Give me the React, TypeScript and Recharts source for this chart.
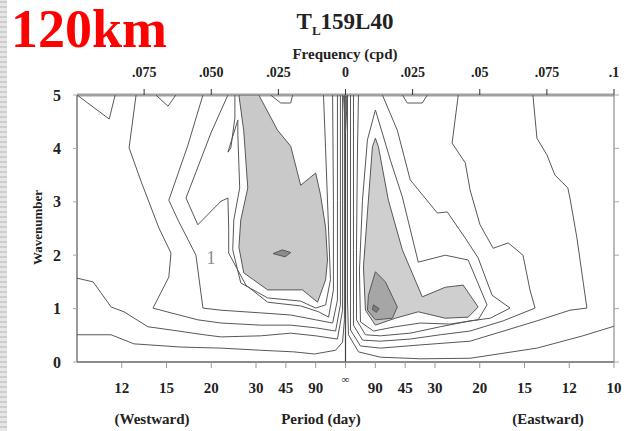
import { ComposedChart, Scatter, XAxis, YAxis, ReferenceLine, ReferenceDot } from 'recharts';

type Pt = [number, number];

// frequency (cpd), negative = westward
const TOP_TICKS = [-0.075, -0.05, -0.025, 0, 0.025, 0.05, 0.075, 0.1];
const TOP_LABELS = ['.075', '.050', '.025', '0', '.025', '.05', '.075', '.1'];
const PERIODS_WEST = [12, 15, 20, 30, 45, 90];
const PERIODS_EAST = [90, 45, 30, 20, 15, 12, 10];
const WAVENUMBERS = [0, 1, 2, 3, 4, 5];

// shaded areas
const westShade: Pt[] = [
    [-0.0397, 5.0], [-0.0323, 5.0], [-0.0253, 4.34], [-0.0204, 4.04], [-0.0167, 3.31], [-0.0111, 3.54],
    [-0.0093, 3.13], [-0.0074, 2.51], [-0.0067, 1.91], [-0.0074, 1.54], [-0.0104, 1.12], [-0.016, 1.35],
    [-0.029, 1.35], [-0.0379, 1.67], [-0.0397, 2.15], [-0.039, 2.66], [-0.0364, 3.26], [-0.0379, 4.33], [-0.0397, 5.0],
];
const westCore: Pt[] = [[-0.027, 2.03], [-0.0235, 2.1], [-0.0204, 2.05], [-0.0225, 1.97], [-0.027, 2.03]];
const centerCore: Pt[] = [[-0.0007, 4.98], [0, 4.3], [0.0007, 4.98], [-0.0007, 4.98]];
const eastShade: Pt[] = [
    [0.01114, 4.19], [0.01226, 4.03], [0.01597, 3.03], [0.02117, 2.1], [0.0286, 1.22], [0.03715, 1.4],
    [0.04383, 1.44], [0.0494, 1.03], [0.0457, 0.84], [0.03715, 0.82], [0.0271, 0.94], [0.01857, 0.82],
    [0.01114, 0.69], [0.00743, 0.97], [0.00669, 1.78], [0.00817, 2.79], [0.01003, 4.03], [0.01114, 4.19],
];
const eastMid: Pt[] = [
    [0.01114, 1.69], [0.01486, 1.5], [0.0193, 1.03], [0.01746, 0.82], [0.01114, 0.79], [0.00817, 0.97],
    [0.00854, 1.25], [0.01114, 1.69],
];
const eastCore: Pt[] = [[0.0104, 1.07], [0.0125, 1.0], [0.0115, 0.93], [0.01, 0.98], [0.0104, 1.07]];

// contour lines, westward half
const westA: Pt[] = [[-0.1, 5], [-0.088, 4.55], [-0.0858, 5]];
const westB: Pt[] = [[-0.0706, 5], [-0.0661, 4.79], [-0.0632, 5]];
const westNotch: Pt[] = [[-0.0279, 5], [-0.0241, 4.85], [-0.0204, 4.85], [-0.0197, 5]];
const westInner: Pt[] = [
    [-0.0082, 5.0], [-0.0074, 3.97], [-0.0063, 2.47], [-0.0056, 1.54], [-0.0074, 1.07], [-0.0111, 1.01],
    [-0.0167, 1.14], [-0.029, 1.2], [-0.039, 1.48], [-0.042, 2.1], [-0.0416, 2.66], [-0.0394, 3.26],
    [-0.0401, 4.25], [-0.0401, 4.53], [-0.0438, 3.93], [-0.0427, 4.01], [-0.0412, 4.57], [-0.0412, 5.0],
];
const westG: Pt[] = [
    [-0.0438, 5.0], [-0.0501, 4.29], [-0.0594, 3.07], [-0.055, 2.57], [-0.0464, 3.01], [-0.0438, 3.07],
    [-0.0435, 2.51], [-0.0435, 2.04], [-0.0371, 1.44], [-0.029, 1.12], [-0.0167, 1.05], [-0.01, 0.94],
    [-0.0063, 0.84], [-0.0045, 1.35], [-0.0045, 3.03], [-0.0048, 5.0],
];
const westD: Pt[] = [
    [-0.0531, 5.0], [-0.0587, 4.06], [-0.0658, 3.03], [-0.0624, 2.66], [-0.0557, 2.0], [-0.0531, 1.01],
    [-0.0464, 0.97], [-0.0316, 0.92], [-0.0204, 0.88], [-0.0111, 0.79], [-0.0048, 0.73], [-0.003, 1.16],
    [-0.003, 3.03], [-0.003, 5.0],
];
const westC: Pt[] = [
    [-0.078, 5.0], [-0.0806, 4.01], [-0.0762, 3.39], [-0.0695, 2.51], [-0.065, 2.04], [-0.0658, 1.59],
    [-0.0717, 1.01], [-0.065, 0.92], [-0.055, 0.79], [-0.0464, 0.73], [-0.0316, 0.69], [-0.0204, 0.69],
    [-0.0111, 0.64], [-0.0037, 0.58], [-0.0019, 1.07], [-0.0019, 3.03], [-0.0019, 5.0],
];
const westE: Pt[] = [
    [-0.1, 1.57], [-0.094, 1.5], [-0.0873, 1.03], [-0.0825, 0.94], [-0.0736, 0.66], [-0.065, 0.6],
    [-0.0527, 0.51], [-0.0464, 0.47], [-0.0316, 0.49], [-0.0204, 0.54], [-0.0111, 0.49], [-0.003, 0.43],
    [-0.0011, 0.97], [-0.0011, 5.0],
];
const westF: Pt[] = [
    [-0.1, 0.51], [-0.0873, 0.51], [-0.0788, 0.34], [-0.0613, 0.28], [-0.0464, 0.26], [-0.0316, 0.22],
    [-0.0193, 0.19], [-0.0115, 0.15], [-0.0037, 0.22], [-0.0011, 0.37], [-0.0004, 0.79], [-0.0004, 5.0],
];

// contour lines, eastward half
const eastNotch: Pt[] = [[0.0212, 5], [0.023, 4.85], [0.0286, 4.85], [0.0305, 5]];
const eastB: Pt[] = [
    [0.01114, 4.72], [0.01672, 3.78], [0.02117, 3.09], [0.0271, 1.87], [0.03715, 2.0], [0.0457, 1.91],
    [0.0527, 1.07], [0.0494, 0.79], [0.039, 0.71], [0.0279, 0.73], [0.01857, 0.66], [0.0104, 0.58],
    [0.00557, 0.75], [0.0052, 1.72], [0.00632, 3.03], [0.00817, 4.16], [0.01114, 4.72],
];
const eastC: Pt[] = [
    [0.01374, 5.0], [0.0193, 4.34], [0.0241, 3.41], [0.0342, 2.79], [0.0379, 2.81], [0.0446, 2.32],
    [0.0494, 1.95], [0.0546, 1.25], [0.0613, 1.01], [0.0539, 0.82], [0.0464, 0.77], [0.0353, 0.66],
    [0.0241, 0.54], [0.013, 0.49], [0.00743, 0.51], [0.00409, 0.79], [0.00409, 2.1], [0.00446, 3.97], [0.00483, 5.0],
];
const eastD: Pt[] = [
    [0.042, 5.0], [0.0397, 4.1], [0.0446, 3.73], [0.0464, 3.22], [0.0501, 2.57], [0.055, 2.13],
    [0.0606, 2.23], [0.0661, 2.0], [0.0687, 1.35], [0.0706, 1.01], [0.0587, 0.77], [0.0464, 0.58],
    [0.0353, 0.51], [0.0241, 0.43], [0.013, 0.39], [0.00632, 0.41], [0.00297, 0.69], [0.00297, 2.1], [0.00297, 5.0],
];
const eastE: Pt[] = [
    [0.0698, 5.0], [0.0713, 4.19], [0.075, 3.88], [0.078, 3.5], [0.0828, 3.26], [0.0836, 3.07],
    [0.0862, 2.32], [0.0899, 1.01], [0.0836, 0.97], [0.0713, 0.77], [0.0464, 0.39], [0.0279, 0.32],
    [0.013, 0.26], [0.00557, 0.3], [0.00186, 0.6], [0.00186, 5.0],
];
const eastF: Pt[] = [
    [0.1, 0.67], [0.0884, 0.49], [0.0713, 0.26], [0.0464, 0.07], [0.0279, 0.06], [0.013, 0.09],
    [0.00483, 0.19], [0.00111, 0.51], [0.00074, 1.16], [0.00074, 5.0],
];

const FILLS: { pts: Pt[]; color: string }[] = [
    { pts: westShade, color: '#c9c9c9' },
    { pts: westCore, color: '#8c8c8c' },
    { pts: centerCore, color: '#6e6e6e' },
    { pts: eastShade, color: '#cfcfcf' },
    { pts: eastMid, color: '#a6a6a6' },
    { pts: eastCore, color: '#7c7c7c' },
];
const LINES: Pt[][] = [
    westA, westB, westNotch, westInner, westG, westD, westC, westE, westF,
    eastB, eastC, eastD, eastE, eastF,
];

const BOTTOM_TICKS = [...PERIODS_WEST.map((p) => -1 / p), 0, ...PERIODS_EAST.map((p) => 1 / p)];
const BOTTOM_LABELS = [...PERIODS_WEST.map(String), '∞', ...PERIODS_EAST.map(String)];

const SERIF = "'Liberation Serif', 'Times New Roman', serif";
const LINE = '#585858';

const rows = (pts: Pt[]) => pts.map(([f, k]) => ({ f, k }));
const noDot = () => <g />;

const PeriodTick = (props: any) => {
    const { x, y, payload } = props;
    const i = BOTTOM_TICKS.findIndex((t) => Math.abs(t - payload.value) < 1e-6);
    const label = BOTTOM_LABELS[i] ?? '';
    const inf = label === '∞';
    return (
        <text x={x} y={y} dy={inf ? 9 : 19} textAnchor="middle" fontFamily={SERIF} fontWeight="bold"
            fontSize={inf ? 11 : 15} fill="#222">
            {label}
        </text>
    );
};

export default function App() {
    return (
        <div style={{ position: 'fixed', left: 0, top: 0, width: 631, height: 431, background: '#fff', overflow: 'hidden' }}>
            <div
                style={{
                    position: 'absolute', left: 0, top: 0, width: 7, height: 431,
                    background: 'repeating-linear-gradient(0deg, #e6e6e6 0px, #e6e6e6 3px, #cdcdcd 3px, #cdcdcd 5px)',
                }}
            />
            <div style={{ position: 'absolute', left: 11, top: 2, fontFamily: SERIF, fontWeight: 'bold', fontSize: 54, lineHeight: 1, color: '#f00' }}>
                120km
            </div>
            <div style={{ position: 'absolute', left: 245, width: 200, top: 10, textAlign: 'center', fontFamily: SERIF, fontWeight: 'bold', fontSize: 23, lineHeight: 1, color: '#222' }}>
                T<sub style={{ fontSize: 13 }}>L</sub>159L40
            </div>
            <div style={{ position: 'absolute', left: 245, width: 200, top: 47, textAlign: 'center', fontFamily: SERIF, fontWeight: 'bold', fontSize: 15, lineHeight: 1, color: '#222' }}>
                Frequency (cpd)
            </div>
            <div
                style={{
                    position: 'absolute', left: 37, top: 228, width: 120, marginLeft: -60, marginTop: -7, textAlign: 'center',
                    transform: 'rotate(-90deg)', fontFamily: SERIF, fontWeight: 'bold', fontSize: 13, lineHeight: 1, color: '#222',
                }}
            >
                Wavenumber
            </div>
            {[
                { text: '(Westward)', cx: 152 },
                { text: 'Period (day)', cx: 321 },
                { text: '(Eastward)', cx: 548 },
            ].map((l) => (
                <div key={l.text} style={{ position: 'absolute', left: l.cx - 80, width: 160, top: 412, textAlign: 'center', fontFamily: SERIF, fontWeight: 'bold', fontSize: 15, lineHeight: 1, color: '#222' }}>
                    {l.text}
                </div>
            ))}

            <div style={{ position: 'absolute', left: 0, top: 0 }}>
                <ComposedChart width={631} height={431} margin={{ top: 70, right: 7, bottom: 39, left: 47 }}>
                    <XAxis
                        xAxisId="t"
                        orientation="top"
                        dataKey="f"
                        type="number"
                        domain={[-0.1, 0.1]}
                        allowDataOverflow
                        ticks={TOP_TICKS}
                        tickFormatter={(v: number) => TOP_LABELS[TOP_TICKS.findIndex((t) => Math.abs(t - v) < 1e-6)] ?? ''}
                        height={25}
                        tickSize={6}
                        tickMargin={12}
                        axisLine={{ stroke: '#a0a0a0', strokeWidth: 3 }}
                        tickLine={{ stroke: '#333' }}
                        tick={{ fontFamily: SERIF, fontWeight: 'bold', fontSize: 14, fill: '#222' }}
                        interval={0}
                    />
                    <XAxis
                        xAxisId="b"
                        orientation="bottom"
                        dataKey="f"
                        type="number"
                        domain={[-0.1, 0.1]}
                        allowDataOverflow
                        ticks={BOTTOM_TICKS}
                        height={30}
                        tickSize={6}
                        tickMargin={6}
                        axisLine={{ stroke: '#666', strokeWidth: 1.5 }}
                        tickLine={{ stroke: '#999' }}
                        tick={PeriodTick}
                        interval={0}
                    />
                    <YAxis
                        yAxisId="l"
                        dataKey="k"
                        type="number"
                        domain={[0, 5]}
                        allowDataOverflow
                        ticks={WAVENUMBERS}
                        width={30}
                        tickSize={4}
                        tickMargin={12}
                        axisLine={{ stroke: '#777', strokeWidth: 1.5 }}
                        tickLine={{ stroke: '#aaa' }}
                        tick={{ fontFamily: SERIF, fontWeight: 'bold', fontSize: 16, fill: '#222' }}
                        interval={0}
                    />
                    <YAxis
                        yAxisId="r"
                        orientation="right"
                        dataKey="k"
                        type="number"
                        domain={[0, 5]}
                        allowDataOverflow
                        ticks={WAVENUMBERS}
                        width={10}
                        tickSize={5}
                        tickFormatter={() => ''}
                        axisLine={{ stroke: '#777' }}
                        tickLine={{ stroke: '#aaa' }}
                        interval={0}
                    />

                    {FILLS.map((s, i) => (
                        <Scatter
                            key={`fill-${i}`}
                            data={rows(s.pts)}
                            xAxisId="b"
                            yAxisId="l"
                            line={{ stroke: LINE, strokeWidth: 1, fill: s.color }}
                            lineJointType="linear"
                            shape={noDot}
                            isAnimationActive={false}
                        />
                    ))}
                    {LINES.map((pts, i) => (
                        <Scatter
                            key={`line-${i}`}
                            data={rows(pts)}
                            xAxisId="b"
                            yAxisId="l"
                            line={{ stroke: LINE, strokeWidth: 1, fill: 'none' }}
                            lineJointType="linear"
                            shape={noDot}
                            isAnimationActive={false}
                        />
                    ))}
                    <Scatter
                        data={rows(eastNotch)}
                        xAxisId="t"
                        yAxisId="r"
                        line={{ stroke: LINE, strokeWidth: 1, fill: 'none' }}
                        lineJointType="linear"
                        shape={noDot}
                        isAnimationActive={false}
                    />
                    <ReferenceLine x={0} xAxisId="b" yAxisId="l" stroke="#444" strokeWidth={1.2} />
                    <ReferenceDot
                        x={-0.0501}
                        y={1.95}
                        xAxisId="b"
                        yAxisId="l"
                        r={1}
                        fill="none"
                        stroke="none"
                        label={{ value: '1', position: 'center', fill: '#8a8a8a', fontSize: 18, fontFamily: SERIF }}
                    />
                </ComposedChart>
            </div>
        </div>
    );
}
